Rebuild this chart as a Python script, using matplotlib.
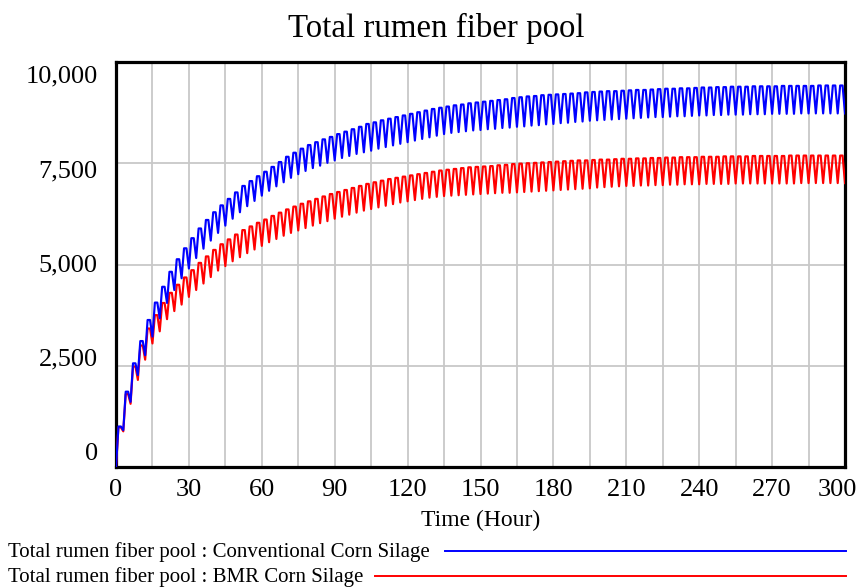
import numpy as np
import matplotlib
matplotlib.use('Agg')
import matplotlib.pyplot as plt

# values: troughs at t=0,3,...,300 and peaks at t=1,4,...,298
conv_trough = [0, 910, 1610, 2270, 2760, 3220, 3670, 4050, 4370, 4660, 4900, 5160, 5390, 5590, 5780, 5960, 6130, 6290, 6440, 6570,
               6700, 6820, 6930, 7030, 7140, 7230, 7310, 7380, 7440, 7510, 7570, 7630, 7680, 7730, 7770, 7810, 7860, 7900, 7940, 7980,
               8020, 8060, 8100, 8140, 8180, 8220, 8250, 8270, 8290, 8310, 8320, 8340, 8350, 8370, 8380, 8400, 8410, 8430, 8440, 8460,
               8470, 8490, 8500, 8520, 8530, 8550, 8560, 8570, 8580, 8590, 8600, 8610, 8620, 8630, 8640, 8640, 8650, 8660, 8660, 8670,
               8680, 8680, 8690, 8690, 8700, 8700, 8700, 8710, 8710, 8710, 8720, 8720, 8720, 8720, 8730, 8730, 8730, 8730, 8730, 8730, 8730]
conv_peak = [1000, 1860, 2560, 3110, 3630, 4060, 4450, 4820, 5130, 5400, 5650, 5890, 6100, 6290, 6460, 6620, 6780, 6940, 7060, 7180,
             7290, 7410, 7530, 7660, 7760, 7860, 7950, 8020, 8090, 8150, 8220, 8280, 8340, 8400, 8470, 8510, 8560, 8600, 8640, 8680,
             8720, 8760, 8800, 8840, 8870, 8900, 8930, 8950, 8980, 9000, 9020, 9040, 9060, 9080, 9110, 9130, 9150, 9160, 9180, 9190,
             9200, 9210, 9220, 9230, 9250, 9260, 9270, 9280, 9280, 9290, 9300, 9310, 9310, 9320, 9330, 9340, 9340, 9350, 9350, 9360,
             9370, 9370, 9380, 9380, 9390, 9390, 9390, 9400, 9400, 9400, 9400, 9410, 9410, 9410, 9410, 9410, 9420, 9420, 9420, 9420]
bmr_trough = [0, 880, 1560, 2150, 2650, 3050, 3350, 3650, 3850, 4010, 4200, 4370, 4530, 4690, 4850, 4960, 5080, 5180, 5280, 5370,
              5460, 5550, 5630, 5710, 5780, 5840, 5900, 5960, 6020, 6070, 6130, 6180, 6230, 6280, 6330, 6370, 6410, 6450, 6490, 6530,
              6560, 6590, 6620, 6650, 6670, 6690, 6700, 6710, 6720, 6730, 6740, 6750, 6760, 6770, 6770, 6780, 6790, 6800, 6810, 6820,
              6830, 6840, 6850, 6860, 6870, 6880, 6900, 6910, 6920, 6930, 6940, 6940, 6950, 6950, 6960, 6960, 6970, 6970, 6980, 6980,
              6980, 6990, 6990, 6990, 6990, 7000, 7000, 7000, 7000, 7000, 7000, 7000, 7000, 7000, 7010, 7010, 7010, 7010, 7010, 7010, 7010]
bmr_peak = [980, 1800, 2480, 3000, 3420, 3750, 4050, 4300, 4500, 4680, 4860, 5040, 5200, 5360, 5500, 5620, 5740, 5850, 5940, 6030,
            6110, 6200, 6280, 6360, 6430, 6500, 6560, 6620, 6680, 6740, 6790, 6840, 6890, 6940, 6990, 7030, 7070, 7110, 7140, 7170,
            7200, 7230, 7260, 7290, 7320, 7340, 7360, 7380, 7400, 7410, 7420, 7430, 7450, 7460, 7480, 7490, 7500, 7510, 7520, 7530,
            7540, 7550, 7560, 7570, 7570, 7580, 7590, 7590, 7600, 7610, 7610, 7620, 7620, 7630, 7630, 7640, 7640, 7650, 7650, 7650,
            7660, 7660, 7660, 7670, 7670, 7670, 7670, 7680, 7680, 7680, 7680, 7680, 7690, 7690, 7690, 7690, 7690, 7690, 7690, 7690]

xticks = [0, 30, 60, 90, 120, 150, 180, 210, 240, 270, 300]
ylabels = ['0', '2,500', '5,000', '7,500', '10,000']
names = ['Total rumen fiber pool : Conventional Corn Silage', 'Total rumen fiber pool : BMR Corn Silage']
colors = ['#0000ff', '#ff0000']

def series(trough, peak):
    # each 3 h cycle: trough, sharp rise to peak, plateau, fall
    t = []; v = []
    for k, p in enumerate(peak):
        t += [3*k, 3*k+1, 3*k+2]; v += [trough[k], p, p]
    t.append(3*len(peak)); v.append(trough[-1])
    return np.array(t), np.array(v)

plt.rcParams['font.family'] = ['Liberation Serif', 'DejaVu Serif']
fig = plt.figure(figsize=(8.66, 5.87), dpi=100)
ax = fig.add_axes([116/866, 1-467/587, (845-116)/866, (467-62)/587])

for tr, pk, c in [(bmr_trough, bmr_peak, colors[1]), (conv_trough, conv_peak, colors[0])]:
    t, v = series(tr, pk)
    ax.plot(t, v, color=c, lw=1.55, zorder=3)

ax.set_xlim(0, 300); ax.set_ylim(0, 10000)
ax.set_xticks(np.arange(0, 301, 15)); ax.set_yticks([0, 2500, 5000, 7500, 10000])
ax.grid(True, color='#c8c8c8', lw=1.3)
ax.tick_params(length=0, labelbottom=False, labelleft=False)
for s in ax.spines.values():
    s.set_linewidth(2.3); s.set_color('black')

for i, lab in enumerate(ylabels):
    ax.text(-0.025, 0.032 + 0.2328*i, lab, transform=ax.transAxes, ha='right', va='center', fontsize=19)
for x in xticks:
    xx = x if x < 300 else 297
    ax.text(xx, -0.057, str(x), transform=ax.get_xaxis_transform(), ha='center', va='center', fontsize=19)

fig.text(481/866, 1-520/587, 'Time (Hour)', ha='center', va='center', fontsize=17)
fig.text(436/866, 1-28/587, 'Total rumen fiber pool', ha='center', va='center', fontsize=23.7)

# Vensim-style legend under the chart
leg_y = [552, 577]
leg_x0 = [445, 375]
for name, c, y, x0 in zip(names, colors, leg_y, leg_x0):
    fig.text(8/866, 1-y/587, name, ha='left', va='center', fontsize=15)
    fig.add_artist(plt.Line2D([x0/866, 846/866], [1-(y-1)/587]*2, color=c, lw=1.4))

fig.savefig('out.png', dpi=100)
